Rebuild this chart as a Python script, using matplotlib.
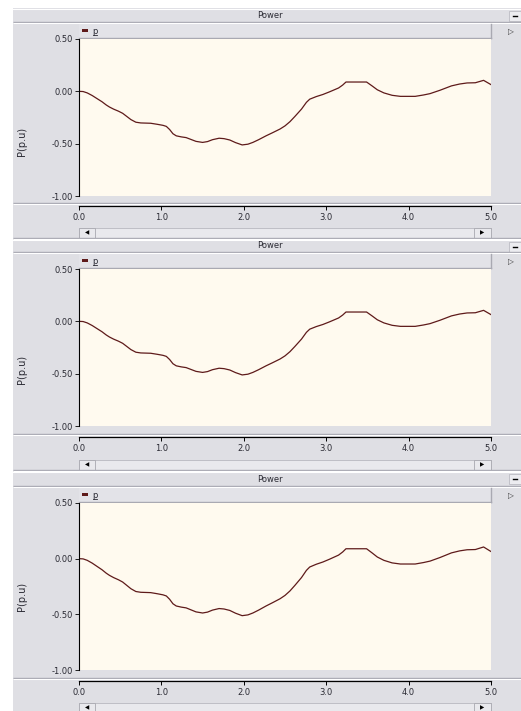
import matplotlib
matplotlib.use("Agg")
import matplotlib.pyplot as plt
from matplotlib.patches import Rectangle

# Power trace (per unit) against time (s)
time_s = [0.00, 0.05, 0.10, 0.16, 0.22, 0.28, 0.33, 0.37, 0.42, 0.48, 0.53,
          0.58, 0.63, 0.69, 0.75, 0.87, 0.95, 1.02, 1.06, 1.10, 1.14, 1.18,
          1.24, 1.30, 1.36, 1.42, 1.50, 1.56, 1.62, 1.70, 1.76, 1.83, 1.90,
          1.98, 2.05, 2.11, 2.18, 2.27, 2.35, 2.44, 2.50, 2.56, 2.62, 2.70,
          2.76, 2.80, 2.88, 2.96, 3.04, 3.15, 3.20, 3.24, 3.49, 3.56, 3.62,
          3.70, 3.80, 3.90, 4.08, 4.18, 4.26, 4.38, 4.52, 4.62, 4.71, 4.81,
          4.91, 5.00]
power_pu = [0.000, -0.002, -0.015, -0.040, -0.070, -0.100, -0.130, -0.150,
            -0.170, -0.190, -0.210, -0.240, -0.270, -0.295, -0.302, -0.305,
            -0.315, -0.325, -0.335, -0.365, -0.405, -0.425, -0.435, -0.442,
            -0.460, -0.478, -0.488, -0.480, -0.462, -0.448, -0.452, -0.465,
            -0.490, -0.512, -0.505, -0.488, -0.462, -0.425, -0.395, -0.360,
            -0.330, -0.290, -0.240, -0.170, -0.105, -0.075, -0.050, -0.030,
            -0.005, 0.032, 0.060, 0.089, 0.089, 0.050, 0.015, -0.015, -0.038,
            -0.048, -0.048, -0.035, -0.022, 0.010, 0.052, 0.070, 0.080, 0.082,
            0.105, 0.064]

panel_title = "Power"
series_name = "p"
y_label = "P(p.u)"
y_ticks = [0.50, 0.00, -0.50, -1.00]
y_tick_labels = ["0.50", "0.00", "-0.50", "-1.00"]
x_ticks = [0.0, 1.0, 2.0, 3.0, 4.0, 5.0]
x_tick_labels = ["0.0", "1.0", "2.0", "3.0", "4.0", "5.0"]

W, H = 521, 711
GREY = "#DFDFE4"
CREAM = "#FFFAEF"
DARK_EDGE = "#A9A9B2"
LINE_COL = "#5E1A1A"
TEXT_COL = "#2A2A33"

fig = plt.figure(figsize=(W / 100, H / 100), dpi=100)
fig.patch.set_facecolor("white")

# pixel-space canvas for the window chrome
bg = fig.add_axes([0, 0, 1, 1], zorder=0)
bg.set_xlim(0, W)
bg.set_ylim(H, 0)
bg.axis("off")
bg.add_patch(Rectangle((13, 8), W - 13, H - 8, facecolor=GREY, edgecolor="none"))


def hsep(y, x0=13, x1=W):
    bg.plot([x0, x1], [y, y], color=DARK_EDGE, lw=1.0, solid_capstyle="butt")
    bg.plot([x0, x1], [y + 1, y + 1], color="white", lw=0.8, solid_capstyle="butt")


def to_fig(x, y):
    return x / W, 1 - y / H


PLOT_X0, PLOT_X1 = 79, 491

# (title top, title bottom, plot top, plot bottom, separator, x-axis line,
#  scroll top, scroll bottom, y-label centre)
panels = [
    (8, 22, 39, 196, 203, 206, 228, 238, 141),
    (239, 252, 269, 426, 434, 437, 460, 470, 369),
    (471, 486, 503, 670, 678, 681, 703, 713, 596),
]

for (t0, t1, p0, p1, sep, xax, s0, s1, ylc) in panels:
    # title bar
    bg.plot([13, W], [t0 + 0.5, t0 + 0.5], color="white", lw=0.8)
    hsep(t1)
    bg.text(270, (t0 + t1) / 2 + 0.5, panel_title, ha="center", va="center",
            fontsize=6, color=TEXT_COL)
    # minimise button
    bg.add_patch(Rectangle((508.5, t0 + 2.5), 12, 10, facecolor="#ECECF0",
                           edgecolor="#B4B4BC", lw=0.5))
    bg.plot([512.5, 517], [t0 + 8, t0 + 8], color="black", lw=1.0)

    # legend strip
    lg0 = t1 + 2
    bg.add_patch(Rectangle((PLOT_X0, lg0), PLOT_X1 - PLOT_X0, p0 - lg0,
                           facecolor="#E3E3E8", edgecolor="none"))
    bg.plot([PLOT_X0, PLOT_X1], [p0 - 1, p0 - 1], color=DARK_EDGE, lw=1.0)
    bg.plot([PLOT_X1, PLOT_X1], [lg0, p0 - 1], color=DARK_EDGE, lw=1.0)
    bg.add_patch(Rectangle((82, lg0 + 5), 6, 3, facecolor=LINE_COL, edgecolor="none"))
    bg.text(92.5, lg0 + 7.5, series_name, ha="left", va="center", fontsize=6,
            color=TEXT_COL)
    bg.plot([92.5, 97], [lg0 + 11, lg0 + 11], color=TEXT_COL, lw=0.6)
    bg.text(510.5, lg0 + 7.5, "\u25b7", ha="center", va="center", fontsize=5.5,
            color="#333333")

    # vertical axis title
    bg.text(22, ylc, y_label, ha="center", va="center", rotation=90,
            fontsize=7, color=TEXT_COL)

    # separator above the time axis
    hsep(sep)

    # scroll bar
    bg.add_patch(Rectangle((PLOT_X0, s0), PLOT_X1 - PLOT_X0, s1 - s0,
                           facecolor="#E9E9ED", edgecolor="#B8B8C0", lw=0.6))
    bg.add_patch(Rectangle((PLOT_X0, s0), 16, s1 - s0, facecolor="#E9E9ED",
                           edgecolor="#A8A8B0", lw=0.6))
    bg.add_patch(Rectangle((PLOT_X1 - 17, s0), 17, s1 - s0, facecolor="#E9E9ED",
                           edgecolor="#A8A8B0", lw=0.6))
    bg.text(PLOT_X0 + 8, (s0 + s1) / 2, "\u25c0", ha="center", va="center",
            fontsize=4, color="black")
    bg.text(PLOT_X1 - 8.5, (s0 + s1) / 2, "\u25b6", ha="center", va="center",
            fontsize=4, color="black")
    hsep(s1)

    # data area
    fx0, fy1 = to_fig(PLOT_X0, p1)
    fx1, fy0 = to_fig(PLOT_X1, p0)
    ax = fig.add_axes([fx0, fy1, fx1 - fx0, fy0 - fy1], zorder=2)
    ax.set_facecolor(CREAM)
    ax.plot(time_s, power_pu, color=LINE_COL, lw=0.9)
    ax.set_xlim(0, 5)
    ax.set_ylim(-1.0, 0.5)
    for side in ("top", "right", "bottom"):
        ax.spines[side].set_visible(False)
    ax.spines["left"].set_color("black")
    ax.spines["left"].set_linewidth(0.8)
    ax.set_xticks([])
    ax.set_yticks(y_ticks)
    ax.set_yticklabels(y_tick_labels)
    ax.tick_params(axis="y", direction="out", length=3, width=0.6, pad=1.5,
                   labelsize=6, labelcolor=TEXT_COL)

    # time axis drawn below the data area
    _, ax_y = to_fig(PLOT_X0, xax)
    tax = fig.add_axes([fx0, ax_y, fx1 - fx0, 0.0001], zorder=2)
    tax.patch.set_visible(False)
    for side in ("top", "right", "left"):
        tax.spines[side].set_visible(False)
    tax.spines["bottom"].set_linewidth(0.9)
    tax.set_xlim(0, 5)
    tax.set_yticks([])
    tax.set_xticks(x_ticks)
    tax.set_xticklabels(x_tick_labels)
    tax.tick_params(axis="x", direction="out", length=3, width=0.7, pad=2,
                    labelsize=6, labelcolor=TEXT_COL)

fig.savefig("out.png", dpi=100)
